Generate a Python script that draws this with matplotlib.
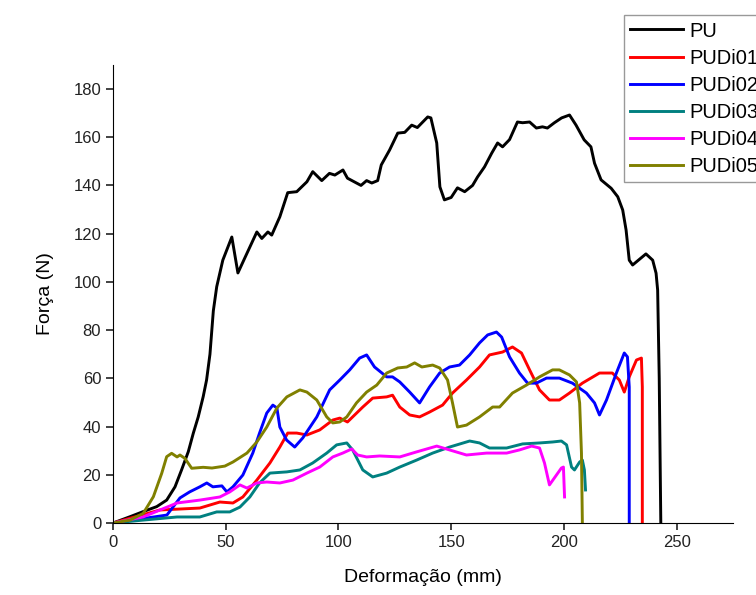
import matplotlib
matplotlib.use("Agg")
import matplotlib.pyplot as plt
import numpy as np

plt.rcParams['font.family'] = ['Liberation Sans', 'DejaVu Sans']

# curvas força x deformação (mm, N)
pu_x = [0, 7.5, 13.3, 19.4, 23.8, 27.5, 30.4, 33.4, 35.6, 37.8, 40, 41.5, 43, 44.5, 46, 48.7,
        52.7, 55.4, 58.5, 63.8, 66, 68.7,
        70.4, 74, 77.5, 81.5, 86, 88.6, 92.6, 96, 98.4, 102, 104, 110, 112.5, 114.8, 117.4,
        119, 122.7, 126.3, 129.4, 132.5, 135, 139.6, 141, 143.6, 145, 147, 150, 152.8, 156,
        159.5, 161.7, 164.8, 168, 170.6, 172.8, 175.9, 179.4, 181.7, 184.8, 187.8, 190.5,
        192.7, 195.8, 199, 202.5, 205.4, 209, 212, 213.6, 216.5, 221, 223.9, 226.1, 227.6,
        229, 230.5, 236.4, 239.4, 240.9, 241.6, 242.3, 243]
pu_y = [0, 2.6, 4.7, 6.8, 9.5, 15, 22, 29.6, 37.2, 44, 52.4, 59.3, 70, 88, 98, 109,
        118.6, 103.7, 110, 120.7, 118, 120.7,
        119.4, 127, 137, 137.4, 141.5, 145.7, 142, 145, 144.3, 146.4, 143, 140, 142, 141, 142,
        148.5, 154.7, 161.7, 162, 165, 164, 168.4, 168, 157.6, 139.4, 134, 135, 139, 137.4,
        140, 143.5, 147.7, 153.4, 157.6, 156, 159, 166.3, 166, 166.3, 163.8, 164.3,
        163.8, 166, 168, 169.2, 165, 158.9, 156, 149.2, 142.3, 138.8, 135.3, 129.8, 121.5,
        109, 107, 111.6, 109, 103.6, 96.6, 60, 0]

pudi01_x = [0, 20.8, 38.5, 47.4, 53.2, 57.6, 63.8, 69.6, 74, 77.5, 81.5, 86, 91.7, 97.5,
            100.6, 104, 110.8, 115.2, 121.4, 124, 127.2, 131.6, 136, 140.4, 146.2, 150.6,
            156.8, 162.6, 167, 172.8, 177.2, 181.2, 184.8, 189.2, 193.6, 198, 202.5, 208.2,
            215.8, 221.5, 224.6, 226.8, 229, 232.2, 234.4, 234.8, 234.8]
pudi01_y = [0, 5.4, 6.2, 8.7, 8.3, 10.8, 17.8, 24.9, 31.5, 37.3, 37.3, 36.5, 38.6, 42.7,
            43.5, 41.9, 48.1, 51.8, 52.3, 53, 48.1, 44.8, 44, 46, 48.9, 53.9,
            59.3, 64.7, 69.7, 70.9, 73, 70.5, 63.5, 55.2, 51, 51, 53.9, 58,
            62.2, 62.2, 59.3, 54.3, 60.6, 67.6, 68.4, 56.4, 0]

pudi02_x = [0, 23.9, 29.7, 34, 38.5, 41.6, 44.3, 48.3, 50.5, 53.2, 57.6, 62, 65, 68.2, 70.9,
            72.7, 74, 77, 80.6, 84.2, 90.4, 96.1, 100.6, 105, 109.4, 112.5, 116, 121.4, 124,
            127.2, 131.6, 136, 140.4, 144.9, 149.3, 153.7, 158.2, 162.6, 166.2, 170.1, 172.4,
            175.9, 180.3, 183.9, 187.8, 192.3, 198, 203.8, 210, 213.6, 215.8, 218.9, 223.3,
            226.8, 228.2, 229, 229]
pudi02_y = [0, 3.3, 10.4, 12.9, 15, 16.6, 15, 15.4, 12.9, 15, 19.9, 29, 37.3, 45.6, 48.9,
            47.7, 39.8, 34.4, 31.5, 35.3, 44, 55.2, 59.3, 63.5, 68.4, 69.7, 64.7, 60.6, 60.6,
            58.5, 54.3, 49.8, 56.4, 62.2, 64.7, 65.5, 69.7, 74.7, 78, 79.2, 77.1,
            68.9, 62.2, 58, 58, 60.1, 60.1, 58, 53.9, 49.8, 44.8, 51, 62.2,
            70.5, 68.9, 56.4, 0]

pudi03_x = [0, 13.3, 28.4, 38.5, 46, 51.8, 56.3, 60.7, 65, 69.6, 77.1, 82.9, 88.6, 94.8, 99.2,
            103.7, 106.3, 110.8, 115.2, 121.4, 127.2, 134.7, 141.8, 149.3, 158.2, 162.6, 167,
            174.6, 181.7, 189.2, 195, 198.9, 201.2, 203.4, 204.7, 207, 208.2, 209.1, 209.6]
pudi03_y = [0, 1.2, 2.5, 2.5, 4.6, 4.6, 6.6, 10.8, 16.6, 20.7, 21.2, 22, 24.9, 29, 32.4,
            33.2, 30.3, 22, 19.1, 20.7, 23.2, 26.1, 29, 31.5, 34, 33.2, 31.1,
            31.1, 32.8, 33.2, 33.6, 34, 32.4, 23.2, 22, 25.3, 26.1, 22, 13.7]

pudi04_x = [0, 13.3, 28.4, 38.5, 47.4, 51.8, 56.3, 59.4, 63.8, 68.2, 74, 79.8, 86, 91.7, 97.5,
            101.9, 105.9, 108.5, 112.5, 118.3, 127.2, 134.7, 143.6, 149.3, 156.8, 165.7, 174.6,
            180.3, 185.7, 189.2, 191.4, 193.6, 195.8, 198.9, 199.8, 200.3]
pudi04_y = [0, 2.5, 8.3, 9.5, 10.8, 12.9, 15.8, 14.5, 16.6, 17, 16.6, 17.8, 20.7, 23.2, 27.4,
            29, 30.7, 28.2, 27.4, 27.8, 27.4, 29.5, 31.9, 30.3, 28.2, 29, 29,
            30.3, 31.9, 31.1, 24.9, 15.8, 18.7, 22.8, 23.2, 10.8]

pudi05_x = [0, 7.5, 13.4, 17.9, 21.6, 23.8, 26, 28.4, 29.7, 31.9, 34.9, 40, 43.9, 49.6, 53.2,
            59.4, 63.8, 68.2, 72.7, 77.1, 82.9, 86, 90.4, 94.8, 97.5, 100.6, 103.7, 108, 112.5,
            117, 121.4, 126.3, 130.3, 133.8, 137, 141.8, 144.9, 148.4, 150.6, 152.8, 156.8,
            162.6, 168.4, 171.5, 177.2, 183.4, 189.2, 195, 198, 202.5, 205.6, 207, 207.8, 208.2]
pudi05_y = [0, 1.2, 4, 10.9, 20.6, 27.5, 28.9, 27.4, 28.2, 26.8, 22.7, 23.1, 22.8, 23.6, 25.3,
            29, 33.6, 39.8, 47.7, 52.3, 55.2, 54.3, 51, 44, 41.5, 41.9, 44, 49.8, 54.3,
            57.2, 62.2, 64.3, 64.7, 66.4, 64.7, 65.5, 64.3, 59.3, 49.8, 39.8, 40.6,
            44, 48.1, 48.1, 53.9, 57.2, 60.6, 63.5, 63.5, 61.4, 58.5, 49.8, 29, 0]

labels = ['PU', 'PUDi01', 'PUDi02', 'PUDi03', 'PUDi04', 'PUDi05']
colors = ['black', '#ff0000', '#0000ff', '#008080', '#ff00ff', '#808000']
xs = [pu_x, pudi01_x, pudi02_x, pudi03_x, pudi04_x, pudi05_x]
ys = [pu_y, pudi01_y, pudi02_y, pudi03_y, pudi04_y, pudi05_y]

fig = plt.figure(figsize=(7.56, 5.95), dpi=100)
ax = fig.add_axes([0.1495, 0.121, 0.820, 0.770])

for x, y, c, lab in zip(xs, ys, colors, labels):
    ax.plot(x, y, color=c, linewidth=2.1, label=lab, solid_joinstyle='round')

ax.set_xlim(0, 275)
ax.set_ylim(0, 190)
ax.set_xticks(np.arange(0, 251, 50))
ax.set_yticks(np.arange(0, 181, 20))
ax.spines['top'].set_visible(False)
ax.spines['right'].set_visible(False)
ax.tick_params(direction='out', length=5, width=1.2, labelsize=12, colors='#222222')
ax.set_xlabel('Deformação (mm)', fontsize=14, labelpad=14)
ax.set_ylabel('Força (N)', fontsize=14, labelpad=14)

fig.legend(loc='upper left', bbox_to_anchor=(0.826, 0.974), fontsize=14.5,
           frameon=True, fancybox=False, edgecolor='#999999', framealpha=1,
           handlelength=2.6, handletextpad=0.3, labelspacing=0.4, borderpad=0.3,
           borderaxespad=0)

fig.savefig('out.png', dpi=100)
